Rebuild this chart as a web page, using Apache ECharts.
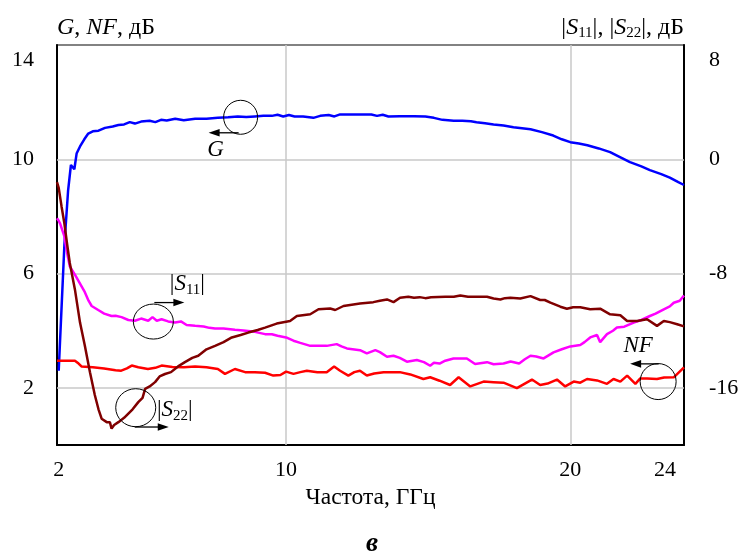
<!DOCTYPE html>
<html>
<head>
<meta charset="utf-8">
<script src="https://cdn.jsdelivr.net/npm/echarts@6/dist/echarts.min.js"></script>
<style>
  html, body { margin: 0; padding: 0; background: #fff; }
  #chart { width: 744px; height: 552px; }
</style>
</head>
<body>
<div id="chart"></div>
<script>
// Amplifier gain, noise figure and reflection coefficients versus frequency
const FONT = 'Liberation Serif';

const xTicks = [2, 10, 20, 24];          // ГГц
const leftTicks = [2, 6, 10, 14];        // G, NF, дБ
const rightTicks = [-16, -8, 0, 8];      // |S11|, |S22|, дБ
const gridX = [10, 20];
const gridY = [2, 6, 10];

// [frequency, GHz ; value, dB]
const gain = [
  [2.0, 2.6], [2.1, 4.8], [2.2, 7.0], [2.33, 8.9], [2.43, 9.8], [2.5, 9.75], [2.55, 9.65],
  [2.63, 10.2], [2.75, 10.45], [2.9, 10.7], [3.04, 10.9], [3.2, 10.98], [3.4, 11.0],
  [3.63, 11.1], [3.9, 11.15], [4.1, 11.2], [4.3, 11.22], [4.5, 11.3], [4.68, 11.25],
  [4.9, 11.32], [5.2, 11.35], [5.4, 11.3], [5.6, 11.38], [5.8, 11.36], [6.1, 11.42],
  [6.4, 11.37], [6.8, 11.42], [7.2, 11.42], [7.6, 11.45], [7.96, 11.47], [8.3, 11.5],
  [8.6, 11.48], [8.9, 11.5], [9.2, 11.52], [9.5, 11.52], [9.7, 11.56], [9.9, 11.5],
  [10.1, 11.55], [10.3, 11.5], [10.6, 11.5], [10.96, 11.45], [11.2, 11.52], [11.5, 11.55],
  [11.7, 11.5], [11.9, 11.57], [12.4, 11.57], [13.0, 11.57], [13.2, 11.52], [13.4, 11.56],
  [13.6, 11.5], [14.0, 11.51], [14.5, 11.51], [14.9, 11.5], [15.2, 11.45], [15.5, 11.38],
  [15.9, 11.35], [16.2, 11.35], [16.5, 11.33], [16.7, 11.3], [17.0, 11.26], [17.3, 11.22],
  [17.65, 11.18], [18.0, 11.12], [18.6, 11.05], [19.0, 10.95], [19.4, 10.83], [19.7, 10.7],
  [20.0, 10.6], [20.3, 10.55], [20.6, 10.49], [21.0, 10.38], [21.4, 10.25], [21.8, 10.05],
  [22.1, 9.9], [22.5, 9.75], [22.8, 9.62], [23.2, 9.48], [23.5, 9.36], [23.8, 9.2], [24.0, 9.1]
];

const noiseFigure = [
  [1.94, 2.95], [2.3, 2.95], [2.57, 2.95], [2.7, 2.85], [2.8, 2.75], [3.2, 2.72], [3.6, 2.68],
  [4.0, 2.62], [4.2, 2.6], [4.4, 2.68], [4.57, 2.78], [4.8, 2.72], [5.14, 2.66], [5.4, 2.7],
  [5.62, 2.78], [6.0, 2.73], [6.4, 2.72], [6.8, 2.75], [7.2, 2.72], [7.6, 2.66], [7.85, 2.49],
  [8.2, 2.66], [8.56, 2.55], [8.9, 2.55], [9.26, 2.53], [9.55, 2.43], [9.8, 2.45], [10.0, 2.57],
  [10.26, 2.49], [10.5, 2.55], [10.73, 2.6], [11.1, 2.55], [11.43, 2.55], [11.69, 2.75],
  [11.9, 2.6], [12.19, 2.43], [12.4, 2.55], [12.6, 2.6], [12.84, 2.43], [13.1, 2.5],
  [13.43, 2.55], [14.0, 2.55], [14.37, 2.47], [14.83, 2.31], [15.07, 2.37], [15.4, 2.25],
  [15.77, 2.1], [16.07, 2.37], [16.48, 2.05], [16.95, 2.22], [17.3, 2.2], [17.65, 2.18],
  [18.12, 1.99], [18.65, 2.29], [18.94, 2.1], [19.2, 2.15], [19.53, 2.29], [19.82, 2.05],
  [20.12, 2.22], [20.35, 2.18], [20.59, 2.31], [20.94, 2.26], [21.29, 2.14], [21.52, 2.31],
  [21.76, 2.22], [22.0, 2.43], [22.29, 2.14], [22.46, 2.33], [22.7, 2.33], [23.05, 2.31],
  [23.3, 2.36], [23.64, 2.37], [24.0, 2.72]
];

const s11 = [
  [1.94, -4.13], [2.0, -4.3], [2.05, -4.5], [2.15, -5.1], [2.2, -5.4], [2.3, -6.6], [2.39, -7.49],
  [2.57, -8.07], [2.75, -8.7], [2.92, -9.3], [3.05, -9.9], [3.16, -10.27], [3.39, -10.55],
  [3.6, -10.8], [3.86, -10.97], [4.0, -10.95], [4.21, -11.05], [4.45, -11.25], [4.68, -11.3],
  [4.9, -11.15], [5.15, -11.3], [5.3, -11.05], [5.45, -11.3], [5.62, -11.2], [5.85, -11.35],
  [6.09, -11.43], [6.3, -11.35], [6.5, -11.6], [6.8, -11.66], [7.1, -11.7], [7.3, -11.8],
  [7.5, -11.85], [7.8, -11.85], [8.2, -11.94], [8.5, -11.98], [8.9, -12.08], [9.26, -12.24],
  [9.5, -12.25], [9.7, -12.35], [10.0, -12.47], [10.26, -12.7], [10.5, -12.85], [10.85, -13.06],
  [11.43, -13.06], [11.78, -12.94], [11.95, -13.1], [12.14, -13.24], [12.6, -13.36],
  [12.84, -13.59], [13.14, -13.36], [13.3, -13.5], [13.55, -13.82], [13.78, -13.75],
  [14.0, -13.9], [14.25, -14.17], [14.6, -14.05], [14.85, -14.2], [15.07, -14.45],
  [15.2, -14.25], [15.4, -14.3], [15.6, -14.1], [15.89, -13.94], [16.36, -13.94],
  [16.65, -14.33], [17.07, -14.2], [17.3, -14.35], [17.65, -14.3], [17.9, -14.15],
  [18.2, -14.3], [18.4, -14.0], [18.6, -13.75], [18.8, -13.8], [19.06, -13.94], [19.41, -13.52],
  [19.7, -13.3], [20.0, -13.1], [20.35, -13.0], [20.5, -12.8], [20.7, -12.47], [20.94, -12.3],
  [21.05, -12.8], [21.29, -12.24], [21.5, -12.0], [21.64, -11.78], [21.9, -11.72],
  [22.23, -11.43], [22.5, -11.25], [22.8, -10.97], [23.0, -10.8], [23.29, -10.5], [23.5, -10.3],
  [23.64, -10.04], [23.85, -9.9], [24.0, -9.53]
];

const s22 = [
  [1.94, -1.6], [2.0, -2.0], [2.1, -3.3], [2.2, -4.5], [2.3, -6.0], [2.39, -7.26], [2.57, -9.11],
  [2.75, -11.43], [2.92, -13.06], [3.1, -14.9], [3.27, -16.5], [3.4, -17.5], [3.51, -18.16],
  [3.69, -18.4], [3.8, -18.4], [3.86, -18.85], [3.95, -18.6], [4.1, -18.4], [4.3, -18.1],
  [4.45, -17.8], [4.6, -17.5], [4.8, -17.0], [4.95, -16.7], [5.04, -16.07], [5.2, -15.9],
  [5.39, -15.6], [5.55, -15.2], [5.74, -15.03], [5.95, -14.9], [6.2, -14.5], [6.44, -14.2],
  [6.7, -13.9], [6.91, -13.75], [7.2, -13.3], [7.5, -13.06], [7.8, -12.8], [8.09, -12.47],
  [8.4, -12.3], [8.67, -12.13], [9.0, -11.95], [9.26, -11.78], [9.67, -11.5], [10.14, -11.32],
  [10.38, -10.97], [10.85, -10.85], [11.14, -10.5], [11.55, -10.45], [11.73, -10.55],
  [12.02, -10.27], [12.6, -10.1], [13.07, -10.0], [13.3, -9.9], [13.55, -9.81], [13.78, -10.0],
  [14.01, -9.69], [14.3, -9.62], [14.5, -9.69], [14.7, -9.65], [14.9, -9.72], [15.1, -9.66],
  [15.6, -9.62], [15.9, -9.62], [16.13, -9.53], [16.4, -9.62], [16.65, -9.62], [17.07, -9.62],
  [17.3, -9.75], [17.54, -9.81], [17.7, -9.72], [17.89, -9.69], [18.24, -9.75], [18.6, -9.58],
  [18.94, -9.85], [19.1, -9.85], [19.3, -10.04], [19.65, -10.32], [19.88, -10.46],
  [20.1, -10.36], [20.35, -10.36], [20.7, -10.5], [21.05, -10.46], [21.4, -10.85],
  [21.76, -10.92], [22.0, -11.32], [22.35, -11.32], [22.7, -11.2], [23.05, -11.66],
  [23.29, -11.32], [23.5, -11.4], [23.76, -11.55], [24.0, -11.7]
];

// Rich text pieces: italic letters, upright text, small subscripts
function richSet(size) {
  const sub = Math.round(size * 0.64);
  return {
    i: { fontFamily: FONT, fontSize: size, fontStyle: 'italic', lineHeight: size + 2, verticalAlign: 'top', color: '#000' },
    r: { fontFamily: FONT, fontSize: size, lineHeight: size + 2, verticalAlign: 'top', color: '#000' },
    s: { fontFamily: FONT, fontSize: sub, lineHeight: sub, padding: [Math.round(size * 0.42), 0, 0, 0], verticalAlign: 'top', color: '#000' }
  };
}
const titleRich = richSet(24);
const calloutRich = richSet(23);

// edge tick labels sit a little inside the frame
const tickRich = {
  top: { fontFamily: FONT, fontSize: 22, color: '#000', padding: [30, 0, 0, 0] },
  end: { fontFamily: FONT, fontSize: 22, color: '#000', padding: [0, 38, 0, 0] }
};

const chart = echarts.init(document.getElementById('chart'), null, { renderer: 'canvas' });

const tickLabel = { fontFamily: FONT, fontSize: 22, color: '#000', rich: tickRich };

chart.setOption({
  animation: false,
  backgroundColor: '#fff',
  title: {
    text: 'в', left: 'center', top: 526,
    textStyle: { fontFamily: FONT, fontSize: 27, fontStyle: 'italic', fontWeight: 'bold', color: '#000' }
  },
  grid: {
    left: 57, right: 60, top: 45, bottom: 107,
    show: true, borderColor: '#595959', borderWidth: 1.5, backgroundColor: 'transparent'
  },
  xAxis: {
    type: 'value', min: 1.94, max: 24,
    axisLine: { show: true, lineStyle: { color: '#000', width: 2 } },
    axisTick: { show: false },
    splitLine: { show: false },
    axisLabel: Object.assign({}, tickLabel, {
      customValues: xTicks, margin: 14,
      formatter: v => v === xTicks[xTicks.length - 1] ? '{end|' + v + '}' : String(v)
    }),
    name: 'Частота, ГГц', nameLocation: 'middle', nameGap: 39,
    nameTextStyle: { fontFamily: FONT, fontSize: 23.5, color: '#000' }
  },
  yAxis: [
    {
      type: 'value', min: 0, max: 14, position: 'left',
      axisLine: { show: true, lineStyle: { color: '#000', width: 2 } },
      axisTick: { show: false },
      splitLine: { show: false },
      axisLabel: Object.assign({}, tickLabel, {
        customValues: leftTicks, margin: 23,
        formatter: v => v === leftTicks[leftTicks.length - 1] ? '{top|' + v + '}' : String(v)
      }),
      name: '{i|G}{r|, }{i|NF}{r|, дБ}', nameLocation: 'end', nameGap: 16,
      nameTextStyle: { align: 'left', verticalAlign: 'middle', rich: titleRich }
    },
    {
      type: 'value', min: -20, max: 8, position: 'right',
      axisLine: { show: true, lineStyle: { color: '#000', width: 2 } },
      axisTick: { show: false },
      splitLine: { show: false },
      axisLabel: Object.assign({}, tickLabel, {
        customValues: rightTicks, margin: 25,
        formatter: v => v === rightTicks[rightTicks.length - 1] ? '{top|' + v + '}' : String(v)
      }),
      name: '{r||}{i|S}{s|11}{r||, |}{i|S}{s|22}{r||, дБ}', nameLocation: 'end', nameGap: 16,
      nameTextStyle: { align: 'right', verticalAlign: 'middle', rich: titleRich }
    }
  ],
  series: [
    {
      name: 'G', type: 'line', yAxisIndex: 0, data: gain, showSymbol: false, z: 3,
      lineStyle: { color: '#0000ff', width: 2.5 }, itemStyle: { color: '#0000ff' },
      markLine: {
        silent: true, symbol: 'none', z: 1, animation: false,
        label: { show: false },
        lineStyle: { color: '#c8c8c8', width: 1.5, type: 'solid' },
        data: gridX.map(v => ({ xAxis: v })).concat(gridY.map(v => ({ yAxis: v })))
      }
    },
    {
      name: 'NF', type: 'line', yAxisIndex: 0, data: noiseFigure, showSymbol: false, z: 3,
      lineStyle: { color: '#ff0000', width: 2.5 }, itemStyle: { color: '#ff0000' }
    },
    {
      name: '|S11|', type: 'line', yAxisIndex: 1, data: s11, showSymbol: false, z: 3,
      lineStyle: { color: '#ff00ff', width: 2.5 }, itemStyle: { color: '#ff00ff' }
    },
    {
      name: '|S22|', type: 'line', yAxisIndex: 1, data: s22, showSymbol: false, z: 3,
      lineStyle: { color: '#800000', width: 2.5 }, itemStyle: { color: '#800000' }
    }
  ]
});

// Curve call-outs: ellipse on the curve, arrow toward its axis, and the curve's label.
// Anchors are in data units of the series' own axes; offsets are in pixels.
const callouts = [
  { series: 0, at: [8.4, 11.47], rx: 17, ry: 17, arrow: [-2, 15.5, -32], text: '{i|G}', tx: -25, ty: 34 },
  { series: 2, at: [5.33, -11.36], rx: 20, ry: 17.5, arrow: [1, -19, 31], text: '{r||}{i|S}{s|11}{r||}', tx: 34, ty: -37 },
  { series: 3, at: [4.71, -17.39], rx: 20, ry: 19, arrow: [-1, 19.3, 33], text: '{r||}{i|S}{s|22}{r||}', tx: 39, ty: 3 },
  { series: 1, at: [23.09, 2.22], rx: 18, ry: 18, arrow: [0.6, -17.7, -28], text: '{i|NF}', tx: -20, ty: -35 }
];

const graphics = [];
callouts.forEach(c => {
  const p = chart.convertToPixel({ seriesIndex: c.series }, c.at);
  const cx = p[0], cy = p[1];
  graphics.push({
    type: 'ellipse', silent: true, z: 10,
    shape: { cx: cx, cy: cy, rx: c.rx, ry: c.ry },
    style: { fill: 'none', stroke: '#000', lineWidth: 1 }
  });
  const x1 = cx + c.arrow[0], y = cy + c.arrow[1], tip = cx + c.arrow[2];
  const dir = tip > x1 ? 1 : -1;
  graphics.push({
    type: 'line', silent: true, z: 10,
    shape: { x1: x1, y1: y, x2: tip - dir * 6, y2: y },
    style: { stroke: '#000', lineWidth: 1.3 }
  });
  graphics.push({
    type: 'polygon', silent: true, z: 10,
    shape: { points: [[tip, y], [tip - dir * 11, y - 3.8], [tip - dir * 11, y + 3.8]] },
    style: { fill: '#000' }
  });
  graphics.push({
    type: 'text', silent: true, z: 10,
    x: cx + c.tx, y: cy + c.ty,
    style: { text: c.text, rich: calloutRich, align: 'center', verticalAlign: 'middle' }
  });
});
chart.setOption({ graphic: graphics });
</script>
</body>
</html>
